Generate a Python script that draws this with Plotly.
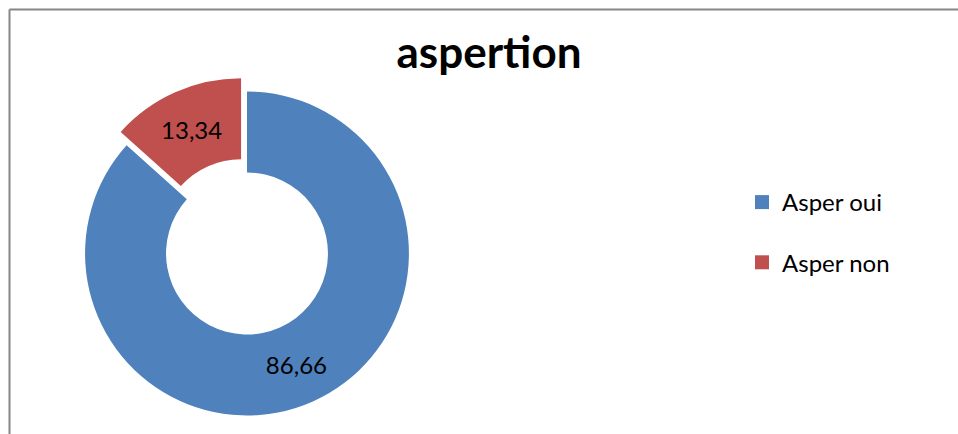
import plotly.graph_objects as go

labels = ["Asper oui", "Asper non"]
values = [86.66, 13.34]
colors = ["#4F81BD", "#C0504D"]
pulls = [0, 0.09]
title_text = "aspertion"

W, H = 958, 434
FONT = "Lato"

text_labels = [f"{v:.2f}".replace(".", ",") for v in values]

fig = go.Figure()
fig.add_trace(go.Pie(
    labels=labels, values=values, text=text_labels,
    textinfo="text", textposition="inside", insidetextorientation="horizontal",
    hole=0.5, sort=False, direction="clockwise", rotation=0,
    pull=pulls, marker=dict(colors=colors, line=dict(width=0)),
    textfont=dict(family=FONT, size=24, color="black"),
    showlegend=False, hoverinfo="label+value",
    domain=dict(x=[70.5 / W, 423.5 / W], y=[1 - 430 / H, 1 - 77 / H]),
))

for i, (lab, col) in enumerate(zip(labels, colors)):
    fig.add_trace(go.Scatter(
        x=[None], y=[None], mode="markers", name=lab, legendgroup=f"g{i}",
        marker=dict(symbol="square", size=14, color=col),
        showlegend=True,
    ))

fig.update_layout(
    width=W, height=H,
    margin=dict(l=0, r=0, t=0, b=0),
    paper_bgcolor="white", plot_bgcolor="white",
    font=dict(family=FONT, color="black"),
    title=dict(text=f"<b>{title_text}</b>", x=489 / W, xanchor="center",
               y=1 - 68 / H, yanchor="bottom",
               font=dict(family=FONT, size=44, color="black")),
    xaxis=dict(visible=False), yaxis=dict(visible=False),
    legend=dict(x=742 / W, xanchor="left", y=1 - 180 / H, yanchor="top",
                font=dict(family=FONT, size=24, color="black"),
                tracegroupgap=26, bgcolor="rgba(0,0,0,0)"),
    shapes=[
        dict(type="line", xref="paper", yref="paper",
             x0=9.5 / W, x1=1.02, y0=1 - 9.5 / H, y1=1 - 9.5 / H,
             line=dict(color="#868686", width=2)),
        dict(type="line", xref="paper", yref="paper",
             x0=9.5 / W, x1=9.5 / W, y0=-0.02, y1=1 - 9.5 / H,
             line=dict(color="#868686", width=2)),
    ],
)

fig.write_html(
    "out.html",
    config={"displayModeBar": False},
    post_script="document.body.style.margin='0';document.body.style.overflow='hidden';",
)
